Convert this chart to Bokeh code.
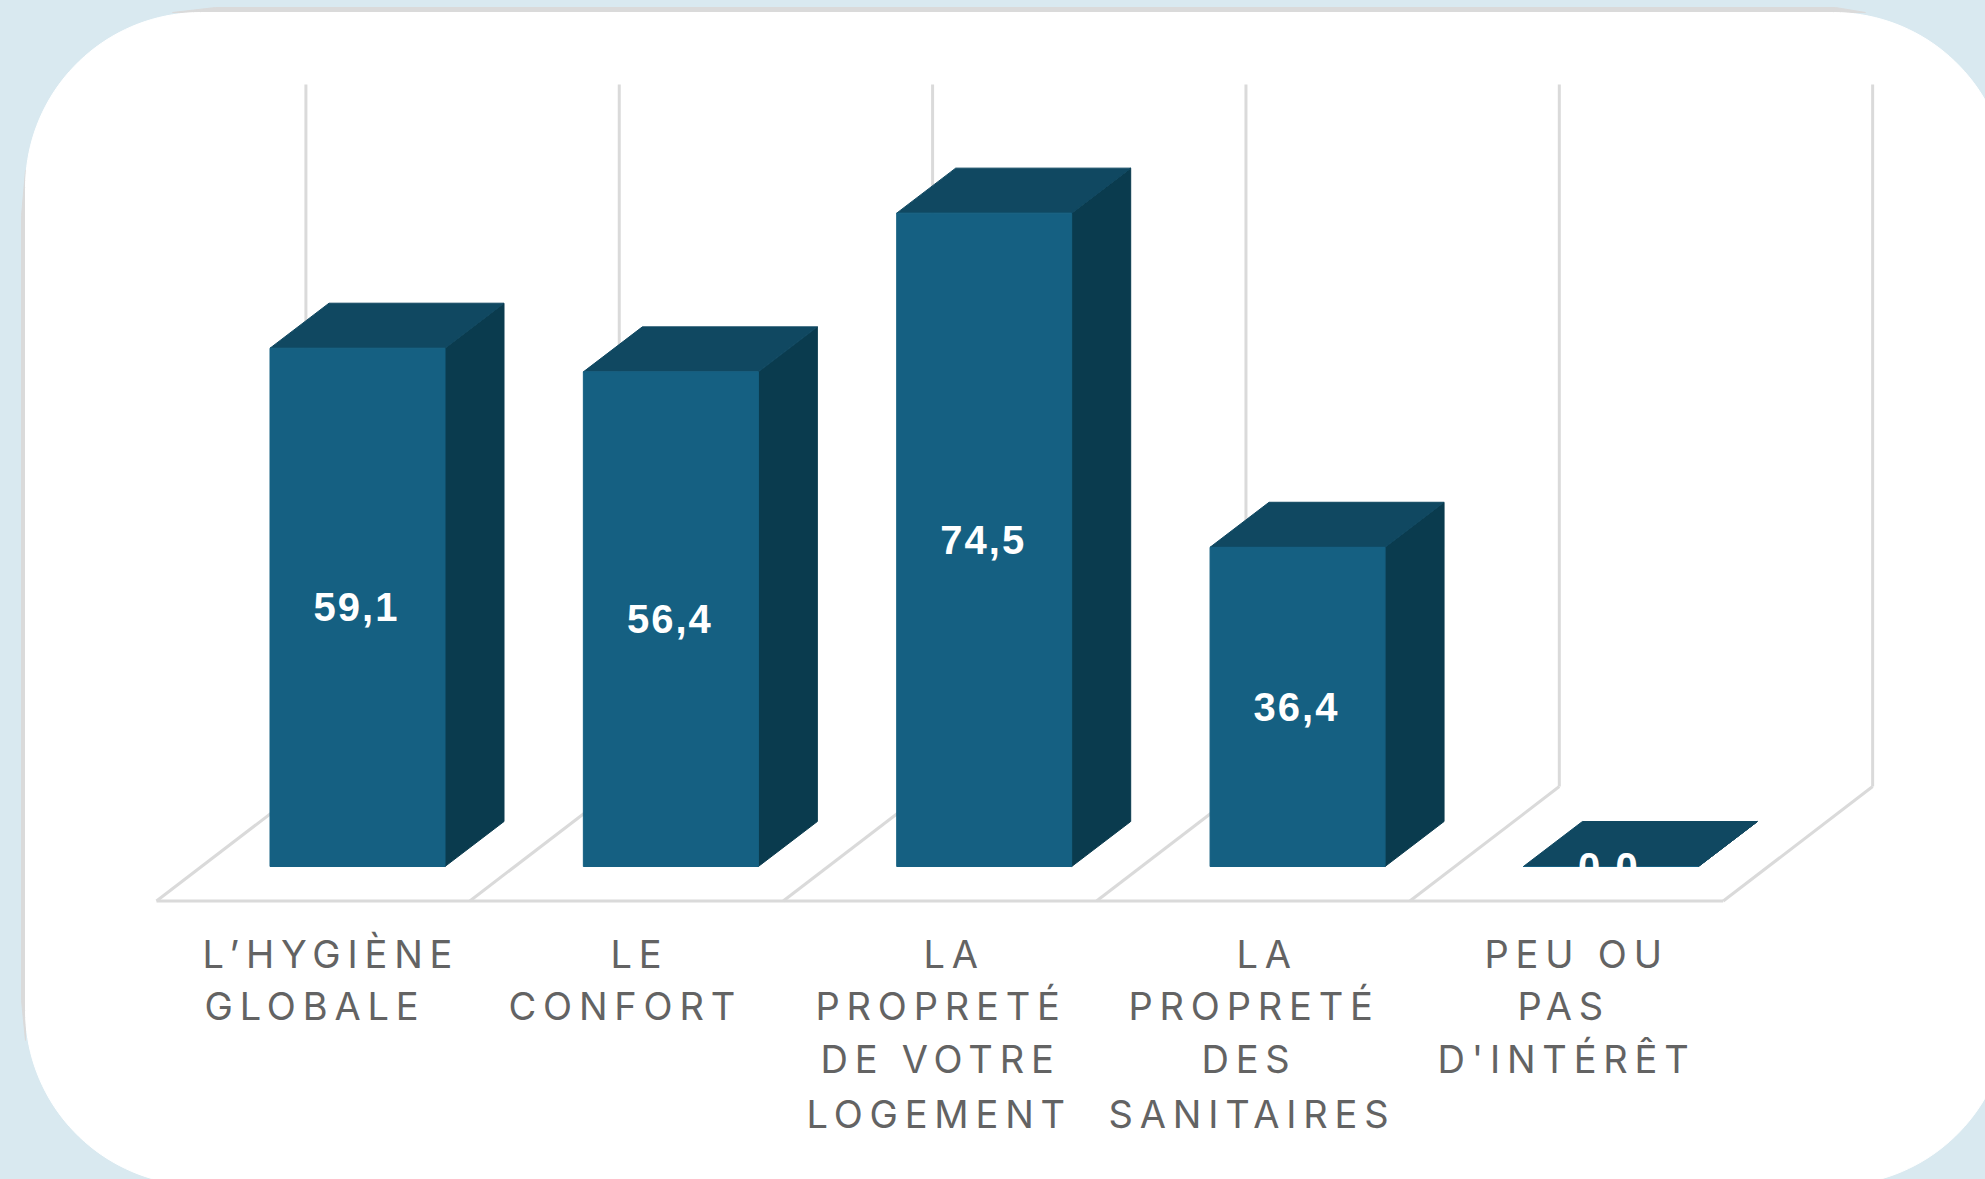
import numpy as np
from bokeh.plotting import figure
from bokeh.layouts import column
from bokeh.models import Range1d
from bokeh.embed import file_html
from bokeh.resources import INLINE
from bokeh.core.properties import value

# ---- data ----
categories = ["L’HYGIÈNE GLOBALE", "LE CONFORT", "LA PROPRETÉ DE VOTRE LOGEMENT",
              "LA PROPRETÉ DES SANITAIRES", "PEU OU PAS D'INTÉRÊT"]
values = [59.1, 56.4, 74.5, 36.4, 0.0]
value_labels = ["59,1", "56,4", "74,5", "36,4", "0,0"]
label_lines = [["L’HYGIÈNE", "GLOBALE"], ["LE", "CONFORT"],
               ["LA", "PROPRETÉ", "DE VOTRE", "LOGEMENT"],
               ["LA", "PROPRETÉ", "DES", "SANITAIRES"],
               ["PEU OU", "PAS", "D'INTÉRÊT"]]

# ---- layout (page pixels) ----
W, H = 1985, 1179
X0, STEP = 357.0, 313.35      # page x of category 0, px per category
Y0, UNIT = 866.0, 8.77        # page y of value 0, px per value unit
BAR_W = 175 / STEP
DX, DY = 59 / STEP, 45 / UNIT
FLOOR_FRONT = (Y0 - 900.5) / UNIT
FLOOR_BACK = (Y0 - 786) / UNIT
FLOOR_LX = (156 - X0) / STEP
WALL_LX = (305.4 - X0) / STEP
WALL_TOP = (Y0 - 84) / UNIT
BLUE, TOP, SIDE = "#156082", "#104861", "#0a3b4e"
GRID = "#dadada"
BG = "#d9e9f0"
# left edge and baseline of each label line
line_lefts = [[202, 204], [610, 508], [923, 815, 820, 806], [1236, 1128, 1201, 1108], [1484, 1517, 1437]]
line_baselines = [953, 1005, 1058, 1113]
VALUE_SHIFT = -5 / STEP

x_range = Range1d((0 - X0) / STEP, (W - X0) / STEP)
y_range = Range1d((Y0 - H) / UNIT, Y0 / UNIT)


def make_fig(**kw):
    f = figure(width=W, height=H, x_range=x_range, y_range=y_range, output_backend="svg",
               toolbar_location=None, min_border=0, outline_line_color=None, **kw)
    f.axis.visible = False
    f.grid.visible = False
    f.extra_x_ranges["px"] = Range1d(0, W)
    f.extra_y_ranges["px"] = Range1d(H, 0)
    return f


p = make_fig(background_fill_color=BG, border_fill_color=BG,
             styles={"letter-spacing": "2px"})

# card (page pixels)
L, T, R, B, RAD = 25, 12, 2008, 1185, 175
th = np.linspace(0, np.pi / 2, 40)
card_x = np.concatenate([L + RAD - RAD * np.cos(th), R - RAD + RAD * np.sin(th),
                         R - RAD + RAD * np.cos(th), L + RAD - RAD * np.sin(th)])
card_y = np.concatenate([T + RAD - RAD * np.sin(th), T + RAD - RAD * np.cos(th),
                         B - RAD + RAD * np.sin(th), B - RAD + RAD * np.cos(th)])
p.patch([172, 215, 1835, 1865], [T, T - 5, T - 5, T], color=GRID, x_range_name="px", y_range_name="px")
p.patch([L, L - 4, L - 4, L], [170, 215, 1000, 1040], color=GRID, x_range_name="px", y_range_name="px")
p.patch(card_x, card_y, color="white", x_range_name="px", y_range_name="px")

# walls and floor
n = len(values)
p.segment(WALL_LX + np.arange(n + 1), [FLOOR_BACK] * (n + 1), WALL_LX + np.arange(n + 1), [WALL_TOP] * (n + 1),
          line_color=GRID, line_width=3)
p.segment(FLOOR_LX + np.arange(n + 1), [FLOOR_FRONT] * (n + 1), WALL_LX + np.arange(n + 1), [FLOOR_BACK] * (n + 1),
          line_color=GRID, line_width=3)
p.segment([FLOOR_LX], [FLOOR_FRONT], [FLOOR_LX + n], [FLOOR_FRONT], line_color=GRID, line_width=3)

# bars
idx = np.arange(n)
v = np.array(values)
hw = BAR_W / 2
p.patches([[i + hw, i + hw + DX, i + hw + DX, i + hw] for i in idx],
          [[0, DY, h + DY, h] for h in v], color=SIDE)
p.patches([[i - hw, i - hw + DX, i + hw + DX, i + hw] for i in idx],
          [[h, h + DY, h + DY, h] for h in v], color=TOP)
p.vbar(x=idx, top=v, bottom=0, width=BAR_W, color=BLUE)

# value labels
p.text(idx + VALUE_SHIFT, v / 2, text=value_labels, text_color="white", text_align="center", text_baseline="middle",
       text_font=value("Liberation Sans"), text_font_style="bold", text_font_size="40px")

# category labels: separate transparent layer with wider letter spacing
q = make_fig(styles={"letter-spacing": "6.8px", "position": "absolute", "top": "0", "left": "0",
                     "pointer-events": "none"})
q.background_fill_color = None
q.border_fill_color = None
for lines, lefts in zip(label_lines, line_lefts):
    q.text(lefts, line_baselines[:len(lines)], text=lines, x_range_name="px", y_range_name="px",
           text_color="#636363", text_align="left", text_baseline="alphabetic",
           text_font=value("Inter"), text_font_size="38px")

root = column(p, q, width=W, height=H, styles={"position": "relative"})
html = file_html(root, INLINE)
html = html.replace("</head>", f"<style>html,body{{background:{BG};overflow:hidden}}</style></head>", 1)
open("out.html", "w").write(html)
